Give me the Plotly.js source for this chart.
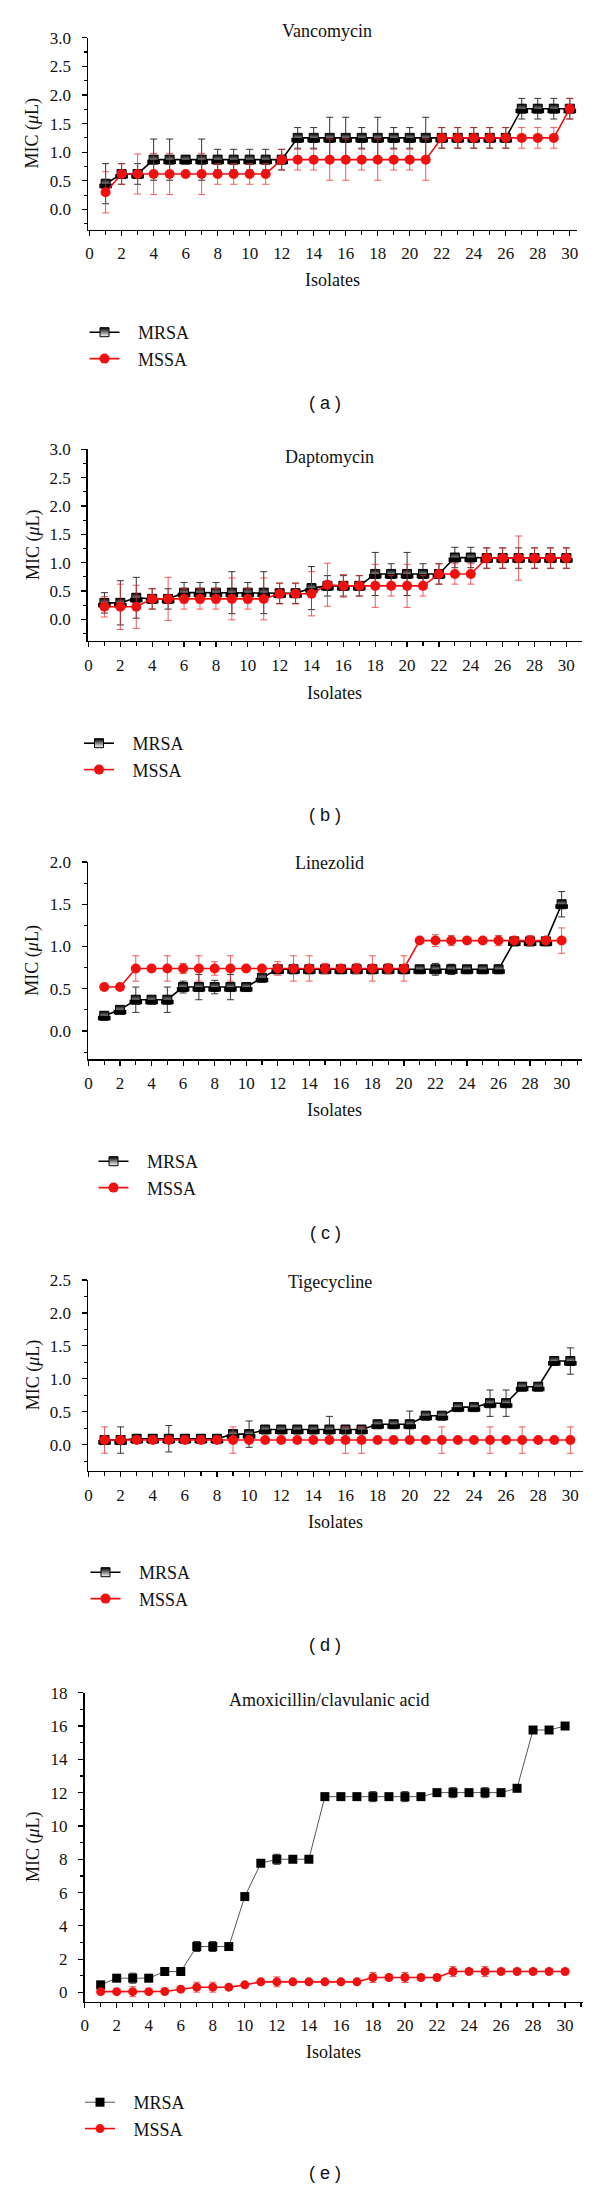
<!DOCTYPE html>
<html><head><meta charset="utf-8">
<script src="https://cdn.plot.ly/plotly-3.0.1.min.js"></script>
<style>body{margin:0;padding:0;background:#fff}#chart{width:600px;height:2189px}</style>
</head><body><div id="chart"></div>
<script>
// ---------- DATA ----------
const isolates = [1,2,3,4,5,6,7,8,9,10,11,12,13,14,15,16,17,18,19,20,21,22,23,24,25,26,27,28,29,30];
const seriesNames = ['MRSA', 'MSSA'];
const panelTitles = ['Vancomycin', 'Daptomycin', 'Linezolid', 'Tigecycline', 'Amoxicillin/clavulanic acid'];
const panelLabels = ['( a )', '( b )', '( c )', '( d )', '( e )'];
const xTitle = 'Isolates';
const yTitle = 'MIC (<i>μ</i>L)';

// (a) Vancomycin
const vancoMRSA = [0.45,0.62,0.62,0.87,0.87,0.87,0.87,0.87,0.87,0.87,0.87,0.87,1.25,1.25,1.25,1.25,1.25,1.25,1.25,1.25,1.25,1.25,1.25,1.25,1.25,1.25,1.76,1.76,1.76,1.76];
const vancoMRSAerr = [0.35,0.18,0.18,0.36,0.36,0.05,0.36,0.18,0.18,0.18,0.18,0.18,0.18,0.18,0.36,0.36,0.18,0.36,0.18,0.18,0.36,0.18,0.18,0.18,0.18,0.18,0.18,0.18,0.18,0.18];
const vancoMSSA = [0.30,0.62,0.62,0.62,0.62,0.62,0.62,0.62,0.62,0.62,0.62,0.87,0.87,0.87,0.87,0.87,0.87,0.87,0.87,0.87,0.87,1.25,1.25,1.25,1.25,1.25,1.25,1.25,1.25,1.76];
const vancoMSSAerr = [0.36,0.18,0.35,0.36,0.36,0.03,0.36,0.18,0.18,0.18,0.18,0.18,0.18,0.18,0.36,0.36,0.18,0.36,0.18,0.18,0.36,0.18,0.18,0.18,0.18,0.18,0.18,0.18,0.18,0.18];

// (b) Daptomycin
const daptoMRSA = [0.29,0.29,0.38,0.36,0.36,0.47,0.47,0.47,0.47,0.47,0.47,0.46,0.46,0.55,0.59,0.59,0.59,0.80,0.80,0.80,0.80,0.80,1.09,1.09,1.08,1.08,1.08,1.08,1.08,1.08];
const daptoMRSAerr = [0.18,0.39,0.36,0.18,0.18,0.18,0.18,0.18,0.37,0.18,0.37,0.18,0.18,0.38,0.18,0.18,0.18,0.38,0.18,0.38,0.18,0.18,0.18,0.18,0.18,0.18,0.18,0.18,0.18,0.18];
const daptoMSSA = [0.22,0.22,0.22,0.36,0.36,0.36,0.36,0.36,0.36,0.36,0.36,0.45,0.45,0.45,0.61,0.59,0.59,0.59,0.59,0.59,0.59,0.80,0.80,0.80,1.08,1.08,1.08,1.08,1.08,1.08];
const daptoMSSAerr = [0.18,0.40,0.38,0.18,0.38,0.18,0.18,0.18,0.37,0.18,0.37,0.18,0.18,0.39,0.38,0.20,0.18,0.38,0.18,0.38,0.18,0.18,0.18,0.18,0.18,0.18,0.39,0.18,0.18,0.18];

// (c) Linezolid
const linezMRSA = [0.18,0.25,0.37,0.37,0.37,0.52,0.52,0.52,0.52,0.52,0.63,0.73,0.73,0.73,0.73,0.73,0.73,0.73,0.73,0.73,0.73,0.73,0.73,0.73,0.73,0.73,1.06,1.06,1.06,1.50];
const linezMRSAerr = [0.02,0.03,0.15,0.03,0.15,0.07,0.15,0.08,0.15,0.02,0.03,0.05,0.05,0.05,0.05,0.03,0.05,0.05,0.05,0.05,0.03,0.07,0.06,0.03,0.03,0.05,0.03,0.05,0.03,0.15];
const linezMSSA = [0.52,0.52,0.74,0.74,0.74,0.74,0.74,0.74,0.74,0.74,0.74,0.74,0.74,0.74,0.74,0.74,0.74,0.74,0.74,0.74,1.07,1.07,1.07,1.07,1.07,1.07,1.07,1.07,1.07,1.07];
const linezMSSAerr = [0,0,0.15,0,0.15,0.06,0.15,0.08,0.15,0,0,0.08,0.15,0.15,0.06,0,0.06,0.15,0.06,0.15,0,0.07,0.06,0,0,0.06,0,0.06,0,0.15];

// (d) Tigecycline
const tigeMRSA = [0.07,0.07,0.09,0.09,0.09,0.09,0.09,0.09,0.16,0.16,0.23,0.23,0.23,0.23,0.23,0.23,0.23,0.31,0.31,0.31,0.44,0.44,0.57,0.57,0.63,0.63,0.88,0.88,1.27,1.27];
const tigeMRSAerr = [0.03,0.20,0.03,0.03,0.20,0.03,0.03,0.03,0.03,0.20,0.03,0.03,0.03,0.03,0.20,0.03,0.03,0.03,0.03,0.20,0.03,0.03,0.03,0.03,0.20,0.20,0.03,0.03,0.03,0.20];
const tigeMSSA = [0.07,0.07,0.07,0.07,0.07,0.07,0.07,0.07,0.07,0.07,0.07,0.07,0.07,0.07,0.07,0.07,0.07,0.07,0.07,0.07,0.07,0.07,0.07,0.07,0.07,0.07,0.07,0.07,0.07,0.07];
const tigeMSSAerr = [0.20,0,0,0,0,0,0,0,0.20,0,0,0,0,0,0,0.20,0.20,0,0,0,0,0.20,0,0,0.20,0,0.20,0,0,0.20];

// (e) Amoxicillin/clavulanic acid
const amoxMRSA = [0.46,0.86,0.86,0.86,1.26,1.26,2.76,2.76,2.76,5.76,7.76,8.0,8.0,8.0,11.76,11.76,11.76,11.76,11.76,11.76,11.76,12.0,12.0,12.0,12.0,12.0,12.26,15.76,15.76,16.0];
const amoxMRSAerr = [0.1,0.1,0.3,0.1,0.1,0.1,0.3,0.3,0.1,0.1,0.1,0.3,0.1,0.1,0.1,0.1,0.1,0.3,0.1,0.3,0.1,0.1,0.3,0.1,0.3,0.1,0.1,0.1,0.1,0.1];
const amoxMSSA = [0.05,0.05,0.05,0.05,0.06,0.20,0.32,0.32,0.32,0.46,0.64,0.64,0.64,0.64,0.64,0.64,0.64,0.90,0.90,0.90,0.90,0.90,1.26,1.26,1.26,1.26,1.26,1.26,1.26,1.26];
const amoxMSSAerr = [0.1,0.1,0.3,0.1,0.1,0.1,0.3,0.3,0.1,0.1,0.1,0.3,0.1,0.1,0.1,0.1,0.1,0.3,0.1,0.3,0.1,0.1,0.3,0.1,0.3,0.1,0.1,0.1,0.1,0.1];

// ---------- LAYOUT HELPERS ----------
const W = 600, H = 2189;
const px = x => x / W;
const py = y => 1 - y / H;
const SERIF = 'Liberation Serif, Times New Roman, serif';
const SANS = 'Liberation Sans, Arial, sans-serif';
const RED = '#f01010';
const NB = '\u00a0\u00a0\u00a0';

const panels = [
  {mrsa: vancoMRSA, mrsaErr: vancoMRSAerr, mssa: vancoMSSA, mssaErr: vancoMSSAerr,
   xd: [88, 577], yd: [37.7, 229.5], xr: [-0.1, 30.45], yr: [-0.35, 3.0], dt: 0.5, mdt: 0.25, fmt: '.1f',
   titleY: 30.7, isoY: 280, legTop: 314, legX: 84.5, capY: 403},
  {mrsa: daptoMRSA, mrsaErr: daptoMRSAerr, mssa: daptoMSSA, mssaErr: daptoMSSAerr,
   xd: [87.7, 581.5], yd: [449.3, 640.7], xr: [-0.05, 30.95], yr: [-0.378, 3.0], dt: 0.5, mdt: 0.25, fmt: '.1f',
   titleY: 456.7, isoY: 693.3, legTop: 725, legX: 79, capY: 815},
  {mrsa: linezMRSA, mrsaErr: linezMRSAerr, mssa: linezMSSA, mssaErr: linezMSSAerr,
   xd: [88, 581.5], yd: [862, 1059.3], xr: [-0.03, 31.26], yr: [-0.335, 2.0], dt: 0.5, mdt: 0.25, fmt: '.1f',
   titleY: 862.7, isoY: 1110, legTop: 1143, legX: 93.5, capY: 1233.3},
  {mrsa: tigeMRSA, mrsaErr: tigeMRSAerr, mssa: tigeMSSA, mssaErr: tigeMSSAerr,
   xd: [88, 582.7], yd: [1280, 1470.7], xr: [-0.03, 30.77], yr: [-0.395, 2.5], dt: 0.5, mdt: 0.25, fmt: '.1f',
   titleY: 1281.7, isoY: 1521.7, legTop: 1554, legX: 85.5, capY: 1645},
  {mrsa: amoxMRSA, mrsaErr: amoxMRSAerr, mssa: amoxMSSA, mssaErr: amoxMSSAerr,
   xd: [84.5, 582.7], yd: [1692.7, 2001.5], xr: [-0.01, 31.1], yr: [-0.54, 18], dt: 2, mdt: 1, fmt: 'd',
   titleY: 1700, isoY: 2051.7, legTop: 2084, legX: 80, capY: 2173.3, solid: true}
];

const data = [];
const layout = {
  width: W, height: H,
  margin: {l: 0, r: 0, t: 0, b: 0},
  paper_bgcolor: '#ffffff', plot_bgcolor: '#ffffff',
  font: {family: SERIF, size: 17, color: '#111'},
  annotations: [],
  showlegend: true
};

panels.forEach((p, i) => {
  const n = i === 0 ? '' : String(i + 1);
  const xa = 'x' + n, ya = 'y' + n;
  const leg = 'legend' + n;
  const solid = !!p.solid;

  data.push({
    type: 'scatter', mode: 'lines+markers', name: NB + seriesNames[0],
    x: isolates, y: p.mrsa, xaxis: xa, yaxis: ya, legend: leg,
    line: {color: solid ? '#555' : '#000', width: solid ? 1 : 1.6},
    marker: solid
      ? {symbol: 'square', size: 9, color: '#000'}
      : {symbol: 'square', size: 9, color: '#000', gradient: {type: 'vertical', color: '#fff'}, line: {color: '#000', width: 1}},
    error_y: {type: 'data', array: p.mrsaErr, visible: true, color: '#333', thickness: 1, width: 3.5},
    cliponaxis: false
  });
  if (!solid) {
    // upper half of the half-filled MRSA square
    data.push({
      type: 'scatter', mode: 'markers', showlegend: false, hoverinfo: 'skip',
      x: isolates, y: p.mrsa, xaxis: xa, yaxis: ya, legend: leg,
      marker: {symbol: 'line-ew', size: 9, angle: 0, standoff: 2.25, color: '#000', line: {color: '#000', width: 4.5}},
      cliponaxis: false
    });
  }
  data.push({
    type: 'scatter', mode: 'lines+markers', name: NB + seriesNames[1],
    x: isolates, y: p.mssa, xaxis: xa, yaxis: ya, legend: leg,
    line: {color: RED, width: 1.6},
    marker: {symbol: 'circle', size: solid ? 9 : 10, color: RED},
    error_y: {type: 'data', array: p.mssaErr, visible: true, color: 'rgba(235,40,40,0.75)', thickness: 1, width: 3.5},
    cliponaxis: false
  });

  const axCommon = {
    showgrid: false, zeroline: false, showline: true, linecolor: '#000', linewidth: 1.5,
    ticks: 'outside', ticklen: 5, tickwidth: 1.2, tickcolor: '#000',
    tickfont: {family: SERIF, size: 17, color: '#111'}, fixedrange: true
  };
  layout['xaxis' + n] = Object.assign({}, axCommon, {
    domain: [px(p.xd[0]), px(p.xd[1])], range: p.xr, anchor: ya,
    tickmode: 'linear', tick0: 0, dtick: 2, ticklabelstandoff: 3,
    minor: {dtick: 1, tick0: 0, ticks: 'outside', ticklen: 4, tickwidth: 1.2, tickcolor: '#000'}
  });
  layout['yaxis' + n] = Object.assign({}, axCommon, {
    domain: [py(p.yd[1]), py(p.yd[0])], range: p.yr, anchor: xa,
    tickmode: 'linear', tick0: 0, dtick: p.dt, tickformat: p.fmt, ticklabelstandoff: 7,
    minor: {dtick: p.mdt, tick0: 0, ticks: 'outside', ticklen: 3, tickwidth: 1.2, tickcolor: '#000'}
  });

  layout[leg] = {
    x: px(p.legX), y: py(p.legTop), xanchor: 'left', yanchor: 'top',
    bgcolor: 'rgba(0,0,0,0)', borderwidth: 0,
    font: {family: SERIF, size: 18, color: '#111'}
  };

  const cx = px((p.xd[0] + p.xd[1]) / 2 - 5);
  layout.annotations.push(
    {text: panelTitles[i], xref: 'paper', yref: 'paper', x: cx, y: py(p.titleY),
     xanchor: 'center', yanchor: 'middle', showarrow: false, font: {family: SERIF, size: 18, color: '#111'}},
    {text: xTitle, xref: 'paper', yref: 'paper', x: px((p.xd[0] + p.xd[1]) / 2), y: py(p.isoY),
     xanchor: 'center', yanchor: 'middle', showarrow: false, font: {family: SERIF, size: 18, color: '#111'}},
    {text: yTitle, xref: 'paper', yref: 'paper', x: px(33), y: py((p.yd[0] + p.yd[1]) / 2),
     xanchor: 'center', yanchor: 'middle', textangle: -90, showarrow: false, font: {family: SERIF, size: 18, color: '#111'}},
    {text: panelLabels[i], xref: 'paper', yref: 'paper', x: px(325), y: py(p.capY),
     xanchor: 'center', yanchor: 'middle', showarrow: false, font: {family: SANS, size: 18, color: '#111'}}
  );
});

Plotly.newPlot('chart', data, layout, {displayModeBar: false, staticPlot: true});
</script>
</body></html>
